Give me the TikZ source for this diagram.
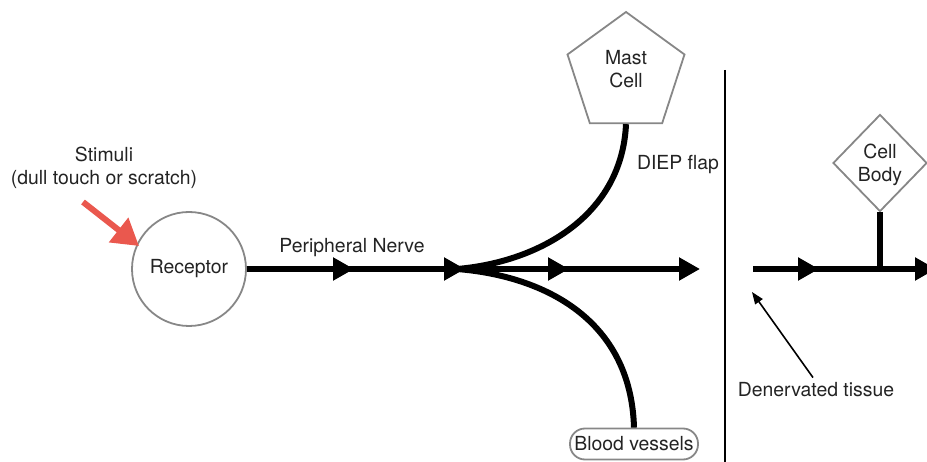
\documentclass[tikz,border=0pt]{standalone}
\usepackage{fontspec}
\setmainfont{TeX Gyre Heros}
\usetikzlibrary{arrows.meta,shapes.geometric,calc}
\definecolor{outl}{RGB}{135,135,135}
\definecolor{txt}{RGB}{35,35,35}
\definecolor{stim}{RGB}{234,88,78}
\begin{document}
\begin{tikzpicture}[x=1pt,y=-1pt,
  every node/.style={font=\fontsize{19.4}{23}\selectfont,text=txt},
  nerve/.style={line width=6pt,black},
  tri/.tip={Triangle[length=21pt,width=22pt]},
  outline/.style={draw=outl,line width=1.8pt},
  lbl/.style={align=center,inner sep=0pt}]
\useasboundingbox (0,0) rectangle (927,462);
% nodes
\node[outline,circle,minimum size=114pt,inner sep=0pt] (rec) at (189,269) {Receptor};
\node[outline,regular polygon,regular polygon sides=5,minimum size=123pt,inner sep=0pt,lbl] (mast) at (626,73.5) {};
\node[lbl] (mastt) at (626,69) {Mast\\Cell};
\node[outline,diamond,minimum width=94pt,minimum height=97pt,inner sep=0pt,lbl] (body) at (880,163) {};
\node[lbl] (bodyt) at (880,165) {Cell\\Body};
\node[outline,rounded corners=15pt,minimum width=128pt,minimum height=31pt,inner sep=0pt] (blood) at (634,444) {Blood vessels};
\node[lbl] (stimt) at (104,168) {Stimuli\\(dull touch or scratch)};
\node[lbl] (pn) at (352,248) {Peripheral Nerve};
\node[lbl] (diep) at (678,165) {DIEP flap};
\node[lbl] (den) at (816,390) {Denervated tissue};
% coordinates
\coordinate (a1) at (354,269);
\coordinate (J) at (457,269);
\coordinate (a2) at (465,269);
\coordinate (a3) at (569,269);
\coordinate (a4) at (700,269);
\coordinate (r0) at (753,269);
\coordinate (r1) at (819,269);
\coordinate (r2) at (880,269);
\coordinate (r3) at (936,269);
\coordinate (vt) at (725,70);
\coordinate (vb) at (725,462);
\coordinate (st0) at (83,202);
\coordinate (st1) at (139,246);
\coordinate (dt) at (752,292);
% main nerve
\draw[nerve] (rec.east) -- (a3);
\draw[nerve,-{tri}] (a3) -- (a4);
\draw[nerve,-{tri}] ($(a1)+(-24,0)$) -- (a1);
\draw[nerve,-{tri}] ($(a2)+(-24,0)$) -- (a2);
\draw[nerve,-{tri}] ($(a3)+(-24,0)$) -- (a3);
\draw[nerve] (J) .. controls (540,262) and (622,215) .. (mast.side 3 |- mast.corner 3);
\draw[nerve] (J) .. controls (545,276) and (631,320) .. (blood.north);
% right part
\draw[nerve,-{tri}] (r0) -- (r3);
\draw[nerve,-{tri}] ($(r1)+(-24,0)$) -- (r1);
\draw[nerve] (r2) -- (body.south);
% vertical divider
\draw[line width=2pt,black] (vt) -- (vb);
% stimuli arrow
\draw[stim,line width=6pt,-{Triangle[length=26pt,width=30pt]}] (st0) -- (st1);
% denervated arrow
\draw[black,line width=1.6pt,-{Triangle[length=12pt,width=9pt]}] (den.north) ++(-3,-5) -- (dt);
\end{tikzpicture}
\end{document}
